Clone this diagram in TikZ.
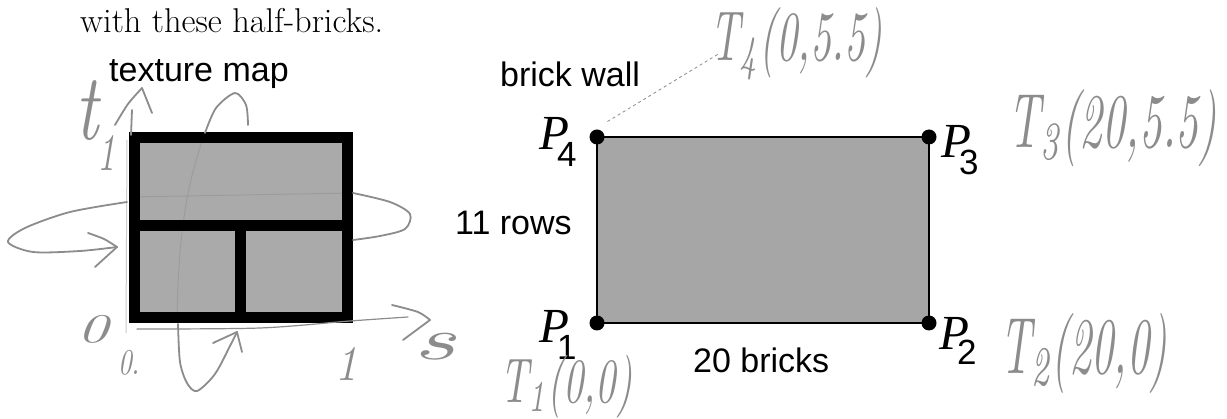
\documentclass[tikz,border=0pt]{standalone}
\usepackage{fontspec}
\usepackage{graphicx}
\newfontfamily\sfarial{Liberation Sans}
\newfontfamily\timesf{Liberation Serif}
\definecolor{pencilgray}{RGB}{140,140,140}
\definecolor{brickgray}{RGB}{170,170,170}
\definecolor{wallgray}{RGB}{166,166,166}
\begin{document}
\begin{tikzpicture}[x=1pt,y=-1pt,
  lab/.style={font=\sfarial\fontsize{34}{40}\selectfont, anchor=base west, inner sep=0},
  plab/.style={anchor=base west, inner sep=0, font=\timesf\itshape\fontsize{49}{52}\selectfont},
  pencil/.style={draw=pencilgray, line width=1.8pt, line cap=round, line join=round},
  faint/.style={draw=pencilgray, line width=1pt, opacity=0.45},
  hw/.style={anchor=north west, inner sep=0, text=pencilgray},
  corner/.style={circle, fill=black, inner sep=0, minimum size=15pt},
  brickline/.style={draw=black, line width=11pt, line join=miter}
]
\useasboundingbox (0,0) rectangle (1227,419);
\fill[white] (0,0) rectangle (1227,419);

% intro text
\node[anchor=base west, inner sep=0, font=\fontsize{34.4}{40}\selectfont] (intro) at (80,33) {with these half-bricks.};

% ---------- texture map ----------
\node[lab] (tmlabel) at (109,82) {texture map};
\coordinate (tA) at (134.5,137.5);
\coordinate (tB) at (347.5,317.5);
\fill[brickgray] (tA) rectangle (tB);
\draw[faint] (129,197) -- (353,193);
\draw[faint] (205,133) .. controls (188,180) and (178,230) .. (177,323);
\draw[brickline] (tA) rectangle (tB);
\draw[black, line width=4pt] (129,134) -- (353,134);
\coordinate (hL) at (134.5,226);
\coordinate (hR) at (347.5,226);
\draw[brickline] (hL) -- (hR);
\coordinate (vT) at (240,226);
\coordinate (vB) at (240,317.5);
\draw[brickline] (vT) -- (vB);

% pencil annotations around texture map
\draw[pencil] plot[smooth] coordinates {(127,202) (70,212) (25,228) (8,242) (33,252) (80,251) (117,247)};
\draw[pencil] plot[smooth] coordinates {(88,233) (104,239) (117,247)};
\draw[pencil] (117,247) -- (95,267);
\draw[pencil] plot[smooth] coordinates {(353,193) (390,202) (410,214) (405,229) (380,236) (353,240)};
\draw[pencil] plot[smooth] coordinates {(205,133) (216,108) (235,93) (246,105) (248,125)};
\draw[pencil] plot[smooth] coordinates {(178,324) (180,362) (187,383) (197,391) (215,374) (231,344) (237,332)};
\draw[pencil] (213,343) -- (237,332) -- (242,352);
\draw[pencil] (131,135) -- (132,110);
\draw[pencil] plot[smooth] coordinates {(115,125) (128,104) (142,88)};
\draw[pencil] (142,88) -- (152,113);
\draw[faint] (127,140) -- (126,333);
\draw[pencil, line width=1.2pt] plot[smooth] coordinates {(137,329) (260,328) (350,321) (408,317)};
\draw[pencil] plot[smooth] coordinates {(392,305) (418,312) (430,320)};
\draw[pencil] (430,320) -- (403,340);

\node[hw] (tlab) at (75,80) {\resizebox*{23pt}{60pt}{\itshape t}};
\node[hw] (tone) at (97,135) {\resizebox*{18pt}{35pt}{\itshape 1}};
\node[hw] (tzero) at (77,315) {\resizebox*{31pt}{28pt}{\itshape 0}};
\node[hw] (szero) at (118,350) {\resizebox*{22pt}{25pt}{\itshape 0.}};
\node[hw] (sone) at (335,347) {\resizebox*{22pt}{33pt}{\itshape 1}};
\node[hw] (slab) at (413,333) {\resizebox*{42pt}{27pt}{\itshape s}};

% ---------- brick wall ----------
\node[lab] (bwlabel) at (500,87) {brick wall};
\coordinate (w1) at (597,323);
\coordinate (w2) at (929,323);
\coordinate (w3) at (929,137);
\coordinate (w4) at (597,137);
\draw[fill=wallgray, line width=1.6pt] (w1) -- (w2) -- (w3) -- (w4) -- cycle;
\node[corner] (d1) at (w1) {};
\node[corner] (d2) at (w2) {};
\node[corner] (d3) at (w3) {};
\node[corner] (d4) at (w4) {};

\node[plab] (P4) at (539,150) {P\kern-12pt\raisebox{-17pt}{\sfarial\upshape\fontsize{35}{40}\selectfont 4}};
\node[plab] (P3) at (941,158) {P\kern-12pt\raisebox{-17pt}{\sfarial\upshape\fontsize{35}{40}\selectfont 3}};
\node[plab] (P1) at (539,343) {P\kern-12pt\raisebox{-17pt}{\sfarial\upshape\fontsize{35}{40}\selectfont 1}};
\node[plab] (P2) at (939,350) {P\kern-12pt\raisebox{-15pt}{\sfarial\upshape\fontsize{35}{40}\selectfont 2}};

\node[lab] (rows) at (455,235) {11 rows};
\node[lab] (bricks) at (693,373) {20 bricks};

% handwritten corner coordinates
\node[hw] (T4) at (710,7) {\resizebox*{172pt}{73pt}{\itshape T\textsubscript{4}(0,5.5)}};
\node[hw] (T3) at (1008,90) {\resizebox*{209pt}{77pt}{\itshape T\textsubscript{3}(20,5.5)}};
\node[hw] (T2) at (1000,313) {\resizebox*{167pt}{80pt}{\itshape T\textsubscript{2}(20,0)}};
\node[hw] (T1) at (500,355) {\resizebox*{132pt}{63pt}{\itshape T\textsubscript{1}(0,0)}};
\coordinate (t4end) at (720,53);
\draw[pencilgray, dashed, line width=0.8pt] (d4.north east) ++(5,-10) -- (t4end);
\end{tikzpicture}
\end{document}
